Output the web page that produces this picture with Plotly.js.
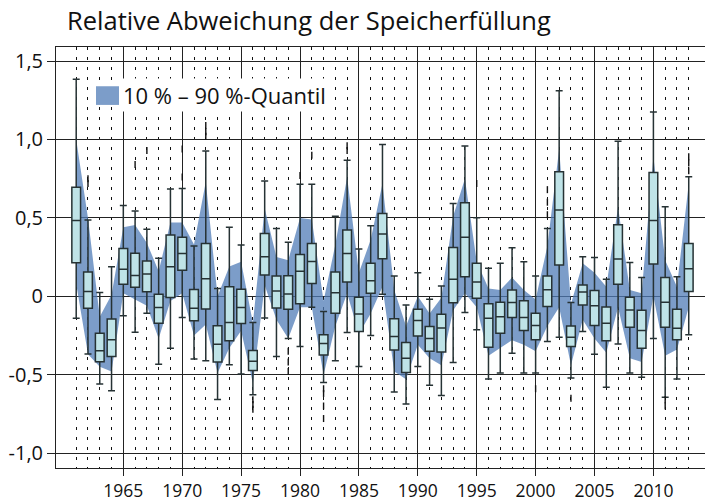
<!DOCTYPE html>
<html>
<head>
<meta charset="utf-8">
<script src="https://cdn.plot.ly/plotly-3.0.1.min.js"></script>
<style>html,body{margin:0;padding:0;background:#fff;}#chart{width:705px;height:501px;}</style>
</head>
<body>
<div id="chart"></div>
<script>
const years = [1961,1962,1963,1964,1965,1966,1967,1968,1969,1970,1971,1972,1973,1974,1975,1976,1977,1978,1979,1980,1981,1982,1983,1984,1985,1986,1987,1988,1989,1990,1991,1992,1993,1994,1995,1996,1997,1998,1999,2000,2001,2002,2003,2004,2005,2006,2007,2008,2009,2010,2011,2012,2013];
const q3 = [0.696,0.154,-0.236,-0.145,0.305,0.274,0.225,0.013,0.390,0.377,0.043,0.337,-0.188,0.061,0.045,-0.346,0.400,0.129,0.131,0.267,0.337,-0.246,0.154,0.422,-0.007,0.210,0.528,-0.144,-0.295,-0.083,-0.193,-0.114,0.311,0.596,0.210,-0.047,-0.039,0.040,-0.028,-0.108,0.129,0.794,-0.189,0.072,0.036,-0.068,0.456,-0.007,-0.089,0.790,0.119,-0.083,0.337];
const medians = [0.484,0.031,-0.347,-0.278,0.172,0.133,0.142,-0.072,0.189,0.272,-0.077,0.111,-0.306,-0.167,-0.072,-0.415,0.252,0.034,0.014,0.160,0.222,-0.302,0.023,0.273,-0.113,0.099,0.397,-0.257,-0.395,-0.155,-0.270,-0.203,0.108,0.377,0.091,-0.140,-0.130,-0.040,-0.136,-0.187,0.042,0.550,-0.262,0.027,-0.060,-0.172,0.238,-0.087,-0.219,0.484,-0.039,-0.204,0.176];
const q1 = [0.214,-0.077,-0.417,-0.384,0.076,0.057,0.028,-0.172,-0.008,0.166,-0.156,-0.082,-0.420,-0.284,-0.173,-0.473,0.136,-0.075,-0.083,-0.047,0.082,-0.374,-0.109,0.091,-0.225,0.019,0.240,-0.342,-0.487,-0.253,-0.351,-0.355,-0.041,0.125,-0.013,-0.325,-0.236,-0.136,-0.219,-0.278,-0.066,0.200,-0.321,-0.055,-0.187,-0.283,0.077,-0.198,-0.331,0.206,-0.198,-0.278,0.030];
const whiskerHigh = [1.384,0.486,0.024,0.189,0.579,0.544,0.428,0.242,0.684,0.688,0.320,0.926,0.049,0.440,0.327,-0.167,0.735,0.433,0.344,0.715,0.715,-0.098,0.511,0.868,0.301,0.450,0.968,0.129,-0.055,0.150,-0.019,0.066,0.592,0.959,0.501,0.178,0.210,0.310,0.220,0.129,0.433,1.311,-0.040,0.252,0.248,0.108,0.989,0.216,0.120,1.176,0.571,0.125,0.762];
const whiskerLow = [-0.140,-0.368,-0.559,-0.603,-0.125,-0.229,-0.109,-0.433,-0.331,-0.135,-0.401,-0.411,-0.658,-0.437,-0.496,-0.629,-0.138,-0.384,-0.270,-0.320,-0.070,-0.550,-0.412,-0.231,-0.448,-0.250,0.013,-0.610,-0.688,-0.448,-0.568,-0.633,-0.423,-0.104,-0.214,-0.527,-0.490,-0.363,-0.490,-0.490,-0.289,-0.262,-0.522,-0.225,-0.370,-0.580,-0.304,-0.490,-0.516,-0.270,-0.644,-0.527,-0.246];
const p90 = [1.00,0.50,-0.13,0.01,0.44,0.455,0.34,0.16,0.47,0.47,0.33,0.73,0.00,0.19,0.22,-0.17,0.56,0.25,0.23,0.50,0.49,-0.03,0.33,0.76,0.15,0.36,0.72,0.04,-0.19,0.00,-0.11,-0.01,0.51,0.75,0.22,0.05,0.04,0.12,0.04,-0.02,0.32,0.94,-0.05,0.21,0.15,0.06,0.57,0.04,0.02,0.89,0.23,0.06,0.72];
const p10 = [0.08,-0.37,-0.45,-0.48,0.02,-0.02,-0.06,-0.27,-0.03,0.02,-0.25,-0.18,-0.49,-0.33,-0.22,-0.555,0.07,-0.15,-0.27,-0.07,-0.07,-0.50,-0.19,0.02,-0.24,-0.11,0.06,-0.48,-0.53,-0.31,-0.395,-0.44,-0.09,0.02,-0.07,-0.38,-0.33,-0.28,-0.31,-0.35,-0.19,-0.07,-0.44,-0.15,-0.27,-0.36,-0.07,-0.395,-0.42,0.00,-0.38,-0.34,-0.07];
const outlierYears = [1962,1962,1966,1967,1970,1970,1972,1972,1972,1976,1976,1976,1979,1979,1979,1980,1981,1982,1982,1982,1982,1984,1984,1995,2000,2001,2001,2001,2003,2011,2011,2013,2013,2013];
const outlierValues = [0.72,0.75,0.84,0.93,0.76,0.94,1.02,1.05,1.09,-0.66,-0.69,-0.72,-0.35,-0.42,-0.48,0.77,0.90,-0.59,-0.62,-0.70,-0.78,0.93,0.96,0.72,-0.59,0.52,0.60,0.68,-0.65,-0.66,-0.70,0.80,0.85,0.89];
const majorYears = [1965,1970,1975,1980,1985,1990,1995,2000,2005,2010];
const yTickVals = [-1,-0.5,0,0.5,1,1.5];
const yTickText = ['-1,0','-0,5','0','0,5','1,0','1,5'];
const titleText = 'Relative Abweichung der Speicherfüllung';
const legendText = '10 % – 90 %-Quantil';

const bandColor = 'rgba(80,124,183,0.75)';
const font = 'Open Sans, Noto Sans, sans-serif';
const xRange = [1959.285, 2014.38];
const yRange = [-1.0955, 1.590];

const traces = [
  {type:'scatter', x: years, y: p10, mode:'lines', line:{width:0, color:bandColor}, showlegend:false, hoverinfo:'skip'},
  {type:'scatter', x: years, y: p90, mode:'lines', fill:'tonexty', fillcolor: bandColor, line:{width:0, color:bandColor}, showlegend:false, hoverinfo:'skip'},
  {type:'box', x: years, q1: q1, median: medians, q3: q3, lowerfence: whiskerLow, upperfence: whiskerHigh,
   xaxis:'x2', yaxis:'y2',
   boxpoints:false, width:0.74, whiskerwidth:0.8, fillcolor:'#bfe3e7', line:{color:'#263234', width:1.5}, showlegend:false},
  {type:'scatter', x: outlierYears, y: outlierValues, xaxis:'x2', yaxis:'y2', mode:'markers', marker:{symbol:'line-ns', size:5, line:{width:1.4, color:'#111'}}, showlegend:false}
];

const layout = {
  width:705, height:501,
  margin:{l:56, r:0, t:47, b:33, pad:0},
  paper_bgcolor:'#fff', plot_bgcolor:'#fff',
  showlegend:false,
  font:{family:font, color:'#111'},
  title:{text:titleText, font:{family:font, size:25.5, color:'#111'}, xref:'container', yref:'container', x:67/705, xanchor:'left', y:1-21/501, yanchor:'middle'},
  xaxis:{
    range:xRange, tickmode:'array', tickvals: majorYears, ticktext: majorYears.map(String),
    ticks:'outside', ticklen:7, tickcolor:'#222', tickwidth:1,
    showgrid:true, gridcolor:'#222', gridwidth:1,
    showline:true, mirror:true, linecolor:'#222', linewidth:1,
    zeroline:false, tickfont:{family:font, size:17.5, color:'#111'}, ticklabelstandoff:0,
    minor:{tickmode:'array', tickvals: years, showgrid:true, gridcolor:'#111', gridwidth:1, griddash:'3px,7px', ticks:''}
  },
  yaxis:{
    range:yRange, tickmode:'array', tickvals: yTickVals, ticktext: yTickText,
    ticks:'outside', ticklen:8, tickcolor:'#222', tickwidth:1,
    showgrid:true, gridcolor:'#222', gridwidth:1,
    showline:true, mirror:true, linecolor:'#222', linewidth:1,
    zeroline:false, tickfont:{family:font, size:20, color:'#111'}
  },
  xaxis2:{range:xRange, overlaying:'x', visible:false},
  yaxis2:{range:yRange, overlaying:'y', visible:false},
  shapes:[
    {type:'rect', xref:'paper', yref:'paper', x0:(96-56)/649, x1:(119-56)/649, y0:(468.3-104.7)/421.6, y1:(468.3-86)/421.6, fillcolor:'#7c9dc9', line:{width:0}, layer:'above'}
  ],
  annotations:[
    {text: legendText, xref:'paper', yref:'paper', x:(121-56)/649, xanchor:'left', y:(468.3-95)/421.6, yanchor:'middle', showarrow:false, bgcolor:'#fff', borderpad:1, font:{family:font, size:22, color:'#111'}}
  ]
};

Plotly.newPlot('chart', traces, layout, {displayModeBar:false, staticPlot:true});
</script>
</body>
</html>
